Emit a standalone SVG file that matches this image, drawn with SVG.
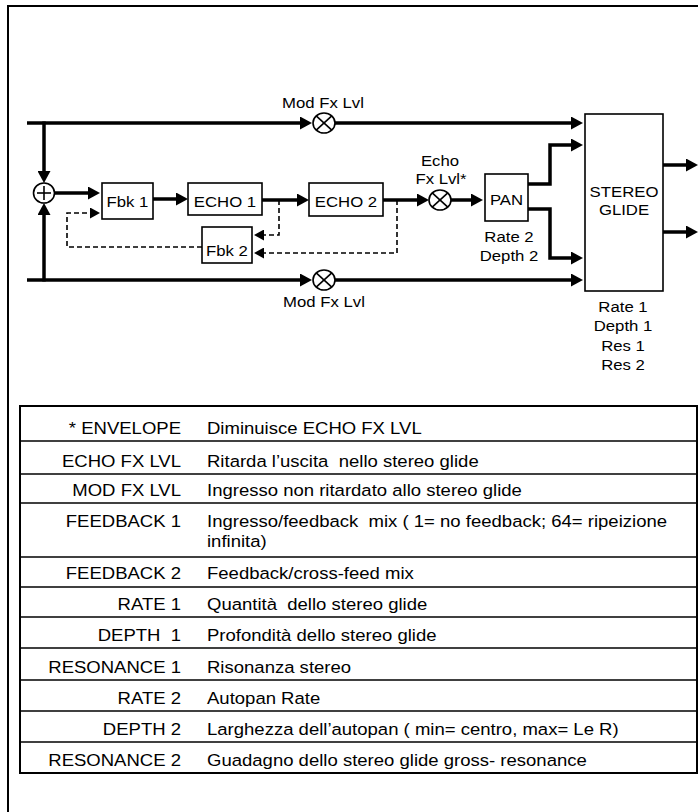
<svg xmlns="http://www.w3.org/2000/svg" width="698" height="812" viewBox="0 0 698 812">
<style>
text{font-family:"Liberation Sans",Arial,sans-serif;fill:#000;white-space:pre}
.t{font-size:15.5px;text-anchor:middle}
.tl{font-size:17px;text-anchor:end}
.td{font-size:17px;text-anchor:start}
.box{fill:#fff;stroke:#000;stroke-width:1.6}
.w{fill:none;stroke:#000;stroke-width:3.5}
.d{fill:none;stroke:#000;stroke-width:1.6;stroke-dasharray:5 3}
.c{fill:#fff;stroke:#000;stroke-width:1.6}
.x{stroke:#000;stroke-width:1.6}
.rl{stroke:#000;stroke-width:1.5}
</style>
<defs>
<marker id="ah" markerUnits="userSpaceOnUse" markerWidth="12" markerHeight="13" refX="0" refY="6.5" orient="auto" viewBox="0 0 12 13"><path d="M0,0 L12,6.5 L0,13 z" fill="#000"/></marker>
<marker id="ahd" markerUnits="userSpaceOnUse" markerWidth="10" markerHeight="11" refX="0" refY="5.5" orient="auto" viewBox="0 0 10 11"><path d="M0,0 L10,5.5 L0,11 z" fill="#000"/></marker>
</defs>
<rect width="698" height="812" fill="#fff"/>
<g id="frame">
<line x1="8" y1="6" x2="698" y2="6" stroke="#000" stroke-width="2"/>
<line x1="8" y1="5" x2="8" y2="812" stroke="#000" stroke-width="2"/>
</g>
<g id="connectors">
<path class="w" d="M27,123 H300" marker-end="url(#ah)"/>
<path class="w" d="M335,123 H571" marker-end="url(#ah)"/>
<path class="w" d="M27,280 H300" marker-end="url(#ah)"/>
<path class="w" d="M335,280 H571" marker-end="url(#ah)"/>
<path class="w" d="M44,121.5 V171" marker-end="url(#ah)"/>
<path class="w" d="M44,281.5 V215" marker-end="url(#ah)"/>
<path class="w" d="M54,193 H88" marker-end="url(#ah)"/>
<path class="d" d="M202,247 H67 V213 H90" marker-end="url(#ahd)"/>
<path class="w" d="M153,199 H176" marker-end="url(#ah)"/>
<path class="w" d="M262,200 H297" marker-end="url(#ah)"/>
<path class="d" d="M279,200 V235 H264" marker-end="url(#ahd)"/>
<path class="w" d="M383,200 H417" marker-end="url(#ah)"/>
<path class="d" d="M397,200 V253 H264" marker-end="url(#ahd)"/>
<path class="w" d="M451,200 H471" marker-end="url(#ah)"/>
<path class="w" d="M528,184 H550 V145 H571" marker-end="url(#ah)"/>
<path class="w" d="M528,209 H550 V258 H571" marker-end="url(#ah)"/>
<path class="w" d="M663,165 H686" marker-end="url(#ah)"/>
<path class="w" d="M663,232 H686" marker-end="url(#ah)"/>
</g>
<g id="sum">
<ellipse class="c" cx="44" cy="193" rx="10.5" ry="10"/>
<line class="x" x1="37" y1="193" x2="51" y2="193"/>
<line class="x" x1="44" y1="186" x2="44" y2="200"/>
</g>
<g id="mod-top">
<ellipse class="c" cx="324" cy="123" rx="11" ry="10"/>
<line class="x" x1="316.2" y1="115.9" x2="331.8" y2="130.1"/>
<line class="x" x1="316.2" y1="130.1" x2="331.8" y2="115.9"/>
<text class="t" transform="translate(323,108) scale(1.08,1)">Mod Fx Lvl</text>
</g>
<g id="mod-bottom">
<ellipse class="c" cx="324" cy="280" rx="11" ry="10"/>
<line class="x" x1="316.2" y1="272.9" x2="331.8" y2="287.1"/>
<line class="x" x1="316.2" y1="287.1" x2="331.8" y2="272.9"/>
<text class="t" transform="translate(324,307) scale(1.08,1)">Mod Fx Lvl</text>
</g>
<g id="echo-level">
<ellipse class="c" cx="440" cy="200" rx="11" ry="10"/>
<line class="x" x1="432.2" y1="192.9" x2="447.8" y2="207.1"/>
<line class="x" x1="432.2" y1="207.1" x2="447.8" y2="192.9"/>
<text class="t" transform="translate(440,166) scale(1.08,1)">Echo</text>
<text class="t" transform="translate(441,183.5) scale(1.08,1)">Fx Lvl*</text>
</g>
<g id="fbk1">
<rect class="box" x="102" y="183" width="51" height="36"/>
<text class="t" transform="translate(127.5,207) scale(1.08,1)">Fbk 1</text>
</g>
<g id="echo1">
<rect class="box" x="188" y="183" width="74" height="32"/>
<text class="t" transform="translate(225,207) scale(1.08,1)">ECHO 1</text>
</g>
<g id="echo2">
<rect class="box" x="309" y="183" width="74" height="33"/>
<text class="t" transform="translate(346,207) scale(1.08,1)">ECHO 2</text>
</g>
<g id="fbk2">
<rect class="box" x="202" y="227" width="50" height="36"/>
<text class="t" transform="translate(227,255.5) scale(1.08,1)">Fbk 2</text>
</g>
<g id="pan">
<rect class="box" x="485" y="174" width="43" height="47"/>
<text class="t" transform="translate(506.5,205) scale(1.08,1)">PAN</text>
<text class="t" transform="translate(509,242) scale(1.08,1)">Rate 2</text>
<text class="t" transform="translate(509,261) scale(1.08,1)">Depth 2</text>
</g>
<g id="stereo-glide">
<rect class="box" x="585" y="114" width="78" height="177"/>
<text class="t" transform="translate(624,197) scale(1.08,1)">STEREO</text>
<text class="t" transform="translate(624,215) scale(1.08,1)">GLIDE</text>
<text class="t" transform="translate(623,312) scale(1.08,1)">Rate 1</text>
<text class="t" transform="translate(623,331) scale(1.08,1)">Depth 1</text>
<text class="t" transform="translate(623,350.5) scale(1.08,1)">Res 1</text>
<text class="t" transform="translate(623,369.5) scale(1.08,1)">Res 2</text>
</g>
<g id="table">
<rect x="20" y="406" width="677" height="367" fill="#fff" stroke="#000" stroke-width="2"/>
<line class="rl" x1="20" y1="441" x2="697" y2="441"/>
<line class="rl" x1="20" y1="474" x2="697" y2="474"/>
<line class="rl" x1="20" y1="503" x2="697" y2="503"/>
<line class="rl" x1="20" y1="557" x2="697" y2="557"/>
<line class="rl" x1="20" y1="587" x2="697" y2="587"/>
<line class="rl" x1="20" y1="617" x2="697" y2="617"/>
<line class="rl" x1="20" y1="648" x2="697" y2="648"/>
<line class="rl" x1="20" y1="680" x2="697" y2="680"/>
<line class="rl" x1="20" y1="711" x2="697" y2="711"/>
<line class="rl" x1="20" y1="742" x2="697" y2="742"/>
<text class="tl" transform="translate(181,434) scale(1.09,1)">* ENVELOPE</text>
<text class="td" transform="translate(207,434) scale(1.09,1)">Diminuisce ECHO FX LVL</text>
<text class="tl" transform="translate(181,467) scale(1.09,1)">ECHO FX LVL</text>
<text class="td" transform="translate(207,467) scale(1.09,1)">Ritarda l’uscita  nello stereo glide</text>
<text class="tl" transform="translate(181,496) scale(1.09,1)">MOD FX LVL</text>
<text class="td" transform="translate(207,496) scale(1.09,1)">Ingresso non ritardato allo stereo glide</text>
<text class="tl" transform="translate(181,527) scale(1.09,1)">FEEDBACK 1</text>
<text class="td" transform="translate(207,527) scale(1.09,1)">Ingresso/feedback  mix ( 1= no feedback; 64= ripeizione</text>
<text class="td" transform="translate(207,547) scale(1.09,1)">infinita)</text>
<text class="tl" transform="translate(181,579) scale(1.09,1)">FEEDBACK 2</text>
<text class="td" transform="translate(207,579) scale(1.09,1)">Feedback/cross-feed mix</text>
<text class="tl" transform="translate(181,610) scale(1.09,1)">RATE 1</text>
<text class="td" transform="translate(207,610) scale(1.09,1)">Quantità  dello stereo glide</text>
<text class="tl" transform="translate(181,641) scale(1.09,1)">DEPTH  1</text>
<text class="td" transform="translate(207,641) scale(1.09,1)">Profondità dello stereo glide</text>
<text class="tl" transform="translate(181,673) scale(1.09,1)">RESONANCE 1</text>
<text class="td" transform="translate(207,673) scale(1.09,1)">Risonanza stereo</text>
<text class="tl" transform="translate(181,704) scale(1.09,1)">RATE 2</text>
<text class="td" transform="translate(207,704) scale(1.09,1)">Autopan Rate</text>
<text class="tl" transform="translate(181,735) scale(1.09,1)">DEPTH 2</text>
<text class="td" transform="translate(207,735) scale(1.09,1)">Larghezza dell’autopan ( min= centro, max= Le R)</text>
<text class="tl" transform="translate(181,766) scale(1.09,1)">RESONANCE 2</text>
<text class="td" transform="translate(207,766) scale(1.09,1)">Guadagno dello stereo glide gross- resonance</text>
</g>
</svg>
